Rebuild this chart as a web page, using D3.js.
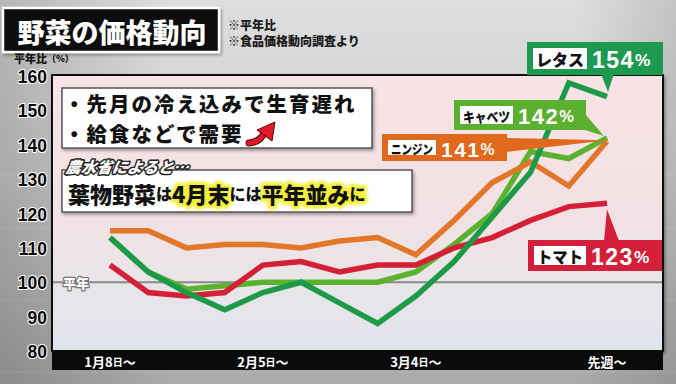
<!DOCTYPE html>
<html>
<head>
<meta charset="utf-8">
<script src="https://cdn.jsdelivr.net/npm/d3@7"></script>
<style>
  html, body { margin: 0; padding: 0; background: #c4c4c4; }
  svg { display: block; }
  text { font-family: "Noto Sans CJK JP", "Noto Sans", sans-serif; }
  .num { font-family: "Liberation Sans", Arial, sans-serif; }
</style>
</head>
<body>
<div class="vegChart"></div>
<script>
// weekly survey, ratio to normal year (%)
const weeks = ["1/8", "1/15", "1/22", "1/29", "2/5", "2/12", "2/19", "2/26", "3/4", "3/11", "3/18", "3/25", "4/1", "4/8"];
const cabbage = [113, 103, 98, 99, 100, 100, 100, 100, 103, 111, 120, 138, 136, 142];
const carrot = [115, 115, 110, 111, 111, 110, 112, 113, 108, 118, 129, 135, 128, 141];
const tomato = [105, 97, 96, 97, 105, 106, 103, 105, 105, 110, 113, 118, 122, 123];
const lettuce = [113, 103, 97, 92, 97, 100, 94, 88, 96, 106, 119, 132, 158, 154];

const yTicks = [80, 90, 100, 110, 120, 130, 140, 150, 160];
const xTickWeeks = ["1/8", "2/5", "3/4", "4/8"];
const xTickLabels = [["1月8", "日", "〜"], ["2月5", "日", "〜"], ["3月4", "日", "〜"], ["先週", "", "〜"]];

const W = 676, H = 384;
const plot = { left: 52, top: 75, right: 663, bottom: 351 };

const x = d3.scalePoint().domain(weeks).range([110, 607]);
const y = d3.scaleLinear().domain([80, 160]).range([plot.bottom, 76]);

const svg = d3.select(".vegChart").append("svg")
    .attr("width", W)
    .attr("height", H);

const defs = svg.append("defs");
const bg = defs.append("linearGradient").attr("id", "bg").attr("x1", 0).attr("y1", 0).attr("x2", 0).attr("y2", 1);
bg.append("stop").attr("offset", "0%").attr("stop-color", "#dedede");
bg.append("stop").attr("offset", "45%").attr("stop-color", "#cfcfcf");
bg.append("stop").attr("offset", "100%").attr("stop-color", "#a9a9a9");
const side = defs.append("linearGradient").attr("id", "side").attr("x1", 0).attr("y1", 0).attr("x2", 1).attr("y2", 0);
side.append("stop").attr("offset", "0%").attr("stop-color", "#000").attr("stop-opacity", 0.18);
side.append("stop").attr("offset", "25%").attr("stop-color", "#000").attr("stop-opacity", 0);
side.append("stop").attr("offset", "85%").attr("stop-color", "#000").attr("stop-opacity", 0);
side.append("stop").attr("offset", "100%").attr("stop-color", "#000").attr("stop-opacity", 0.12);
const pg = defs.append("linearGradient").attr("id", "plotbg").attr("x1", 0).attr("y1", 0).attr("x2", 0).attr("y2", 1);
pg.append("stop").attr("offset", "0%").attr("stop-color", "#f8e3e6");
pg.append("stop").attr("offset", "50%").attr("stop-color", "#f2e1e4");
pg.append("stop").attr("offset", "74%").attr("stop-color", "#e9e5e8");
pg.append("stop").attr("offset", "100%").attr("stop-color", "#e1e4ed");
const shadow = defs.append("filter").attr("id", "shadow").attr("x", "-5%").attr("y", "-5%").attr("width", "115%").attr("height", "130%");
shadow.append("feDropShadow").attr("dx", 1.5).attr("dy", 2).attr("stdDeviation", 1.5).attr("flood-opacity", 0.35);
const glow = defs.append("filter").attr("id", "glow").attr("x", "-10%").attr("y", "-30%").attr("width", "120%").attr("height", "160%");
glow.append("feGaussianBlur").attr("stdDeviation", 1.6);

// backdrop
svg.append("rect").attr("width", W).attr("height", H).attr("fill", "url(#bg)");
svg.append("rect").attr("width", W).attr("height", H).attr("fill", "url(#side)");
[120, 175, 228, 300, 372].forEach(ly => {
    svg.append("line").attr("x1", 0).attr("x2", W).attr("y1", ly).attr("y2", ly)
        .attr("stroke", "#fff").attr("stroke-opacity", 0.12).attr("stroke-width", 1);
});

// title
svg.append("rect").attr("x", 3).attr("y", 8).attr("width", 216).attr("height", 44)
    .attr("fill", "#080808").attr("stroke", "#fff").attr("stroke-width", 2.5).attr("filter", "url(#shadow)");
svg.append("text").attr("x", 112).attr("y", 31)
    .attr("text-anchor", "middle").attr("dominant-baseline", "central")
    .attr("fill", "#fff").attr("font-size", 27).attr("font-weight", 900)
    .text("野菜の価格動向");
svg.append("text").attr("x", 228).attr("y", 24).attr("dominant-baseline", "central")
    .attr("font-size", 12).attr("font-weight", 900).attr("fill", "#1a1a1a").text("※平年比");
svg.append("text").attr("x", 228).attr("y", 40).attr("dominant-baseline", "central")
    .attr("font-size", 12).attr("font-weight", 900).attr("fill", "#1a1a1a").text("※食品価格動向調査より");

// y axis title
const yt = svg.append("text").attr("x", 14).attr("y", 58).attr("dominant-baseline", "central")
    .attr("font-size", 11).attr("font-weight", 900).attr("fill", "#111");
yt.append("tspan").text("平年比");
yt.append("tspan").attr("font-size", 9).text("（%）");

// plot area
svg.append("rect").attr("x", plot.left).attr("y", plot.top)
    .attr("width", plot.right - plot.left).attr("height", plot.bottom - plot.top)
    .attr("fill", "url(#plotbg)").attr("stroke", "#111").attr("stroke-width", 2)
    .attr("filter", "url(#shadow)");

// x band
svg.append("rect").attr("x", plot.left).attr("y", plot.bottom - 1)
    .attr("width", plot.right - plot.left).attr("height", 20).attr("fill", "#0b0b0b");

// y axis
const yAxis = d3.axisLeft(y).tickValues(yTicks).tickSize(0).tickPadding(0);
const gy = svg.append("g").attr("transform", "translate(47,1)").call(yAxis);
gy.select(".domain").remove();
gy.selectAll("text")
    .attr("class", "num")
    .attr("font-size", 17.5).attr("font-weight", 700).attr("fill", "#0a0a0a")
    .attr("stroke", "#fff").attr("stroke-width", 2).attr("paint-order", "stroke")
    .attr("stroke-linejoin", "round");

// x labels
xTickWeeks.forEach((wk, i) => {
    const t = svg.append("text").attr("x", x(wk)).attr("y", plot.bottom + 10)
        .attr("text-anchor", "middle").attr("dominant-baseline", "central")
        .attr("fill", "#fff").attr("font-size", 13).attr("font-weight", 700);
    t.append("tspan").text(xTickLabels[i][0]);
    if (xTickLabels[i][1]) t.append("tspan").attr("font-size", 10).text(xTickLabels[i][1]);
    t.append("tspan").text(xTickLabels[i][2]);
});

// normal-year line
svg.append("line").attr("x1", plot.left + 1).attr("x2", plot.right - 1)
    .attr("y1", y(100)).attr("y2", y(100))
    .attr("stroke", "#8a8a8a").attr("stroke-width", 2.2);
svg.append("text").attr("x", 76).attr("y", y(100)).attr("text-anchor", "middle")
    .attr("dominant-baseline", "central").attr("font-size", 13).attr("font-weight", 900)
    .attr("fill", "#fff").attr("stroke", "#777").attr("stroke-width", 2.5)
    .attr("paint-order", "stroke").attr("stroke-linejoin", "round").text("平年");

// text boxes
svg.append("rect").attr("x", 62).attr("y", 88).attr("width", 310).attr("height", 60)
    .attr("fill", "#fff").attr("stroke", "#555").attr("stroke-width", 1.5).attr("filter", "url(#shadow)");
svg.append("text").attr("x", 64).attr("y", 103).attr("dominant-baseline", "central")
    .attr("font-size", 20.5).attr("letter-spacing", 2).attr("font-weight", 900).attr("fill", "#111")
    .text("・先月の冷え込みで生育遅れ");
svg.append("text").attr("x", 64).attr("y", 133).attr("dominant-baseline", "central")
    .attr("font-size", 20.5).attr("letter-spacing", 2).attr("font-weight", 900).attr("fill", "#111")
    .text("・給食などで需要");
// red up arrow
svg.append("path").attr("d", "M249,143 Q261,142 265,131")
    .attr("fill", "none").attr("stroke", "#5a0a0a").attr("stroke-width", 7).attr("stroke-linecap", "round");
svg.append("path").attr("d", "M249,143 Q261,142 265,131")
    .attr("fill", "none").attr("stroke", "#e0182a").attr("stroke-width", 5).attr("stroke-linecap", "round");
svg.append("path").attr("d", "M257,130 L275,122 L272,141 Z")
    .attr("fill", "#e0182a").attr("stroke", "#5a0a0a").attr("stroke-width", 1).attr("stroke-linejoin", "round");

svg.append("rect").attr("x", 62).attr("y", 170).attr("width", 350).attr("height", 42)
    .attr("fill", "#fff").attr("stroke", "#555").attr("stroke-width", 1.5).attr("filter", "url(#shadow)");
svg.append("text").attr("x", 66).attr("y", 166).attr("dominant-baseline", "central")
    .attr("font-size", 15.5).attr("font-weight", 900).attr("font-style", "italic")
    .attr("transform", "skewX(-8) translate(23,0)")
    .attr("fill", "#fff").attr("stroke", "#222").attr("stroke-width", 3)
    .attr("paint-order", "stroke").attr("stroke-linejoin", "round")
    .text("農水省によると…");

const msg = [
    { t: "葉物野菜", big: true, hi: false },
    { t: "は", big: false, hi: false },
    { t: "4月末", big: true, hi: true },
    { t: "には", big: false, hi: false },
    { t: "平年並み", big: true, hi: true },
    { t: "に", big: false, hi: true }
];
function msgText(layer) {
    const t = svg.append("text").attr("x", 68).attr("y", 193).attr("dominant-baseline", "central")
        .attr("font-weight", 900);
    msg.forEach(m => {
        const s = t.append("tspan").attr("font-size", m.big ? 22 : 16).text(m.t);
        if (layer === "glow") {
            s.attr("fill", m.hi ? "#f2ef3a" : "none")
             .attr("stroke", m.hi ? "#f2ef3a" : "none").attr("stroke-width", 7).attr("stroke-linejoin", "round");
        } else {
            s.attr("fill", "#111");
        }
    });
    if (layer === "glow") t.attr("filter", "url(#glow)");
    return t;
}
msgText("glow");
msgText("text");

// lines
const line = d3.line().x((d, i) => x(weeks[i])).y(d => y(d));
const series = [
    { values: cabbage, color: "#5bb22f" },
    { values: carrot, color: "#e2772a" },
    { values: tomato, color: "#d41f36" },
    { values: lettuce, color: "#1d9a48" }
];
series.forEach(s => {
    svg.append("path").datum(s.values).attr("d", line)
        .attr("fill", "none").attr("stroke", s.color).attr("stroke-width", 5.5)
        .attr("stroke-linejoin", "miter").attr("stroke-miterlimit", 3);
});

// callouts
const last = weeks[weeks.length - 1];
function callout(o) {
    const ax = x(last), ay = y(o.value);
    const g = svg.append("g");
    g.append("path").attr("d", "M" + o.tail(ax, ay).map(p => p.join(",")).join("L") + "Z").attr("fill", o.color);
    g.append("rect").attr("x", o.bx).attr("y", o.by).attr("width", o.bw).attr("height", o.bh).attr("fill", o.color);
    g.append("rect").attr("x", o.bx + 6).attr("y", o.by + 6).attr("width", o.iw).attr("height", o.bh - 12).attr("fill", "#fff");
    g.append("text").attr("x", o.bx + 6 + o.iw / 2).attr("y", o.by + o.bh / 2 + 0.5)
        .attr("text-anchor", "middle").attr("dominant-baseline", "central")
        .attr("font-size", o.fs).attr("font-weight", 900).attr("fill", "#111")
        .attr("textLength", o.iw - 6).attr("lengthAdjust", "spacingAndGlyphs")
        .text(o.name);
    const t = g.append("text").attr("class", "num").attr("x", o.bx + o.iw + 11).attr("y", o.by + o.bh / 2 + 1)
        .attr("dominant-baseline", "central").attr("fill", "#fff").attr("font-weight", 700)
        .attr("letter-spacing", 1.5);
    t.append("tspan").attr("font-size", o.ps).text(o.value);
    t.append("tspan").attr("font-size", o.ps * 0.75).text("%");
}
callout({ name: "レタス", value: lettuce[lettuce.length - 1], color: "#1d9a4f",
    bx: 527, by: 42, bw: 136, bh: 33, iw: 54, fs: 16, ps: 23,
    tail: (ax, ay) => [[601, 74], [614, 74], [ax + 1, ay - 5]] });
callout({ name: "キャベツ", value: cabbage[cabbage.length - 1], color: "#5cb030",
    bx: 454, by: 100, bw: 132, bh: 30, iw: 53, fs: 14, ps: 22,
    tail: (ax, ay) => [[585, 114], [585, 130], [ax - 3, ay - 2]] });
callout({ name: "ニンジン", value: carrot[carrot.length - 1], color: "#e0691e",
    bx: 382, by: 134, bw: 125, bh: 27, iw: 48, fs: 13, ps: 21,
    tail: (ax, ay) => [[506, 138], [ax, ay - 1], [506, 152]] });
callout({ name: "トマト", value: tomato[tomato.length - 1], color: "#d41f3a",
    bx: 528, by: 240, bw: 134, bh: 31, iw: 52, fs: 16, ps: 23,
    tail: (ax, ay) => [[604, 241], [619, 241], [ax, ay + 6]] });
</script>
</body>
</html>
